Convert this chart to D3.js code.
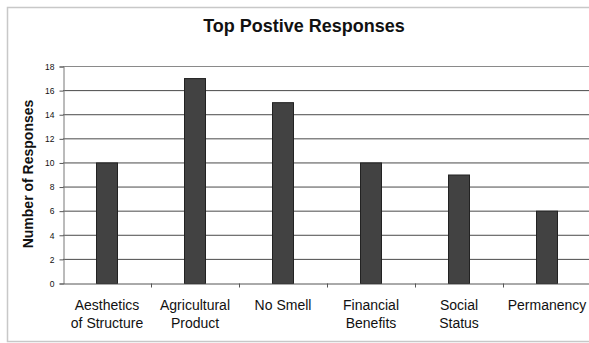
<!DOCTYPE html>
<html>
<head>
<meta charset="utf-8">
<script src="https://cdn.jsdelivr.net/npm/d3@7"></script>
<style>
  body { margin: 0; background: #fff; }
  svg { display: block; font-family: 'Liberation Sans', Arial, sans-serif; }
</style>
</head>
<body>
<div id="chart"></div>
<script>
// data
const categories = [
  ['Aesthetics', 'of Structure'],
  ['Agricultural', 'Product'],
  ['No Smell'],
  ['Financial', 'Benefits'],
  ['Social', 'Status'],
  ['Permanency']
];
const responses = [10, 17, 15, 10, 9, 6];
const yTicks = [0, 2, 4, 6, 8, 10, 12, 14, 16, 18];

const W = 589, H = 343;
const margin = { top: 66, left: 63, bottom: 60 };
const plotRight = 591;
const y0 = H - margin.bottom;

const svg = d3.select('#chart').append('svg')
  .attr('width', W)
  .attr('height', H);

// outer frame
svg.append('rect')
  .attr('x', 7.5).attr('y', 7.5)
  .attr('width', W)
  .attr('height', 334)
  .attr('fill', '#fff')
  .attr('stroke', '#c8c8c8')
  .attr('stroke-width', 1.5);

const keys = categories.map((d, i) => i);

const x = d3.scaleBand()
  .domain(keys)
  .range([margin.left, plotRight])
  .padding(0);

const y = d3.scaleLinear()
  .domain([0, 18])
  .range([y0 + 0.5, margin.top + 0.5]);

// gridlines
svg.append('g')
  .selectAll('line')
  .data(yTicks.filter(d => d > 0))
  .enter()
  .append('line')
  .attr('x1', margin.left)
  .attr('x2', plotRight)
  .attr('y1', d => y(d))
  .attr('y2', d => y(d))
  .attr('stroke', d => d === 18 ? '#8a8a8a' : '#4a4a4a')
  .attr('stroke-width', 1);

// y axis
const yAxis = d3.axisLeft(y)
  .tickValues(yTicks)
  .tickSize(4)
  .tickPadding(5);

const gy = svg.append('g')
  .attr('transform', `translate(${margin.left + 0.5}, 0)`)
  .call(yAxis);
gy.select('.domain').attr('stroke', '#777');
gy.selectAll('.tick line').attr('stroke', '#555');
gy.selectAll('.tick text')
  .attr('font-size', 8.5)
  .attr('fill', '#111')
  .attr('font-family', "'Liberation Sans', Arial, sans-serif");

// bars
const barW = 21;
svg.append('g')
  .selectAll('rect')
  .data(responses)
  .enter()
  .append('rect')
  .attr('x', (d, i) => x(i) + x.bandwidth() / 2 - barW / 2)
  .attr('y', d => y(d))
  .attr('width', barW)
  .attr('height', d => y(0) - y(d))
  .attr('fill', '#424242')
  .attr('stroke', '#222')
  .attr('stroke-width', 1);

// x axis
const xAxis = d3.axisBottom(x)
  .tickSize(0)
  .tickFormat('');
const gx = svg.append('g')
  .attr('transform', `translate(0, ${y(0)})`)
  .call(xAxis);
gx.select('.domain').attr('stroke', '#555');

// category separators on the x axis
gx.selectAll('.sep')
  .data(keys.slice(1))
  .enter()
  .append('line')
  .attr('class', 'sep')
  .attr('x1', d => x(d) + 0.5)
  .attr('x2', d => x(d) + 0.5)
  .attr('y1', 0)
  .attr('y2', 4)
  .attr('stroke', '#555');

// category labels
const labels = svg.append('g')
  .selectAll('text')
  .data(categories)
  .enter()
  .append('text')
  .attr('text-anchor', 'middle')
  .attr('font-size', 14)
  .attr('fill', '#111')
  .attr('transform', (d, i) => `translate(${x(i) + x.bandwidth() / 2}, 310)`);

labels.selectAll('tspan')
  .data(d => d)
  .enter()
  .append('tspan')
  .attr('x', 0)
  .attr('dy', (d, i) => i === 0 ? 0 : 18)
  .text(d => d);

// title
svg.append('text')
  .attr('x', 304)
  .attr('y', 32)
  .attr('text-anchor', 'middle')
  .attr('font-size', 18)
  .attr('font-weight', 'bold')
  .attr('fill', '#111')
  .text('Top Postive Responses');

// y axis title
svg.append('text')
  .attr('transform', 'translate(33, 174) rotate(-90)')
  .attr('text-anchor', 'middle')
  .attr('font-size', 14)
  .attr('font-weight', 'bold')
  .attr('fill', '#111')
  .text('Number of Responses');
</script>
</body>
</html>
